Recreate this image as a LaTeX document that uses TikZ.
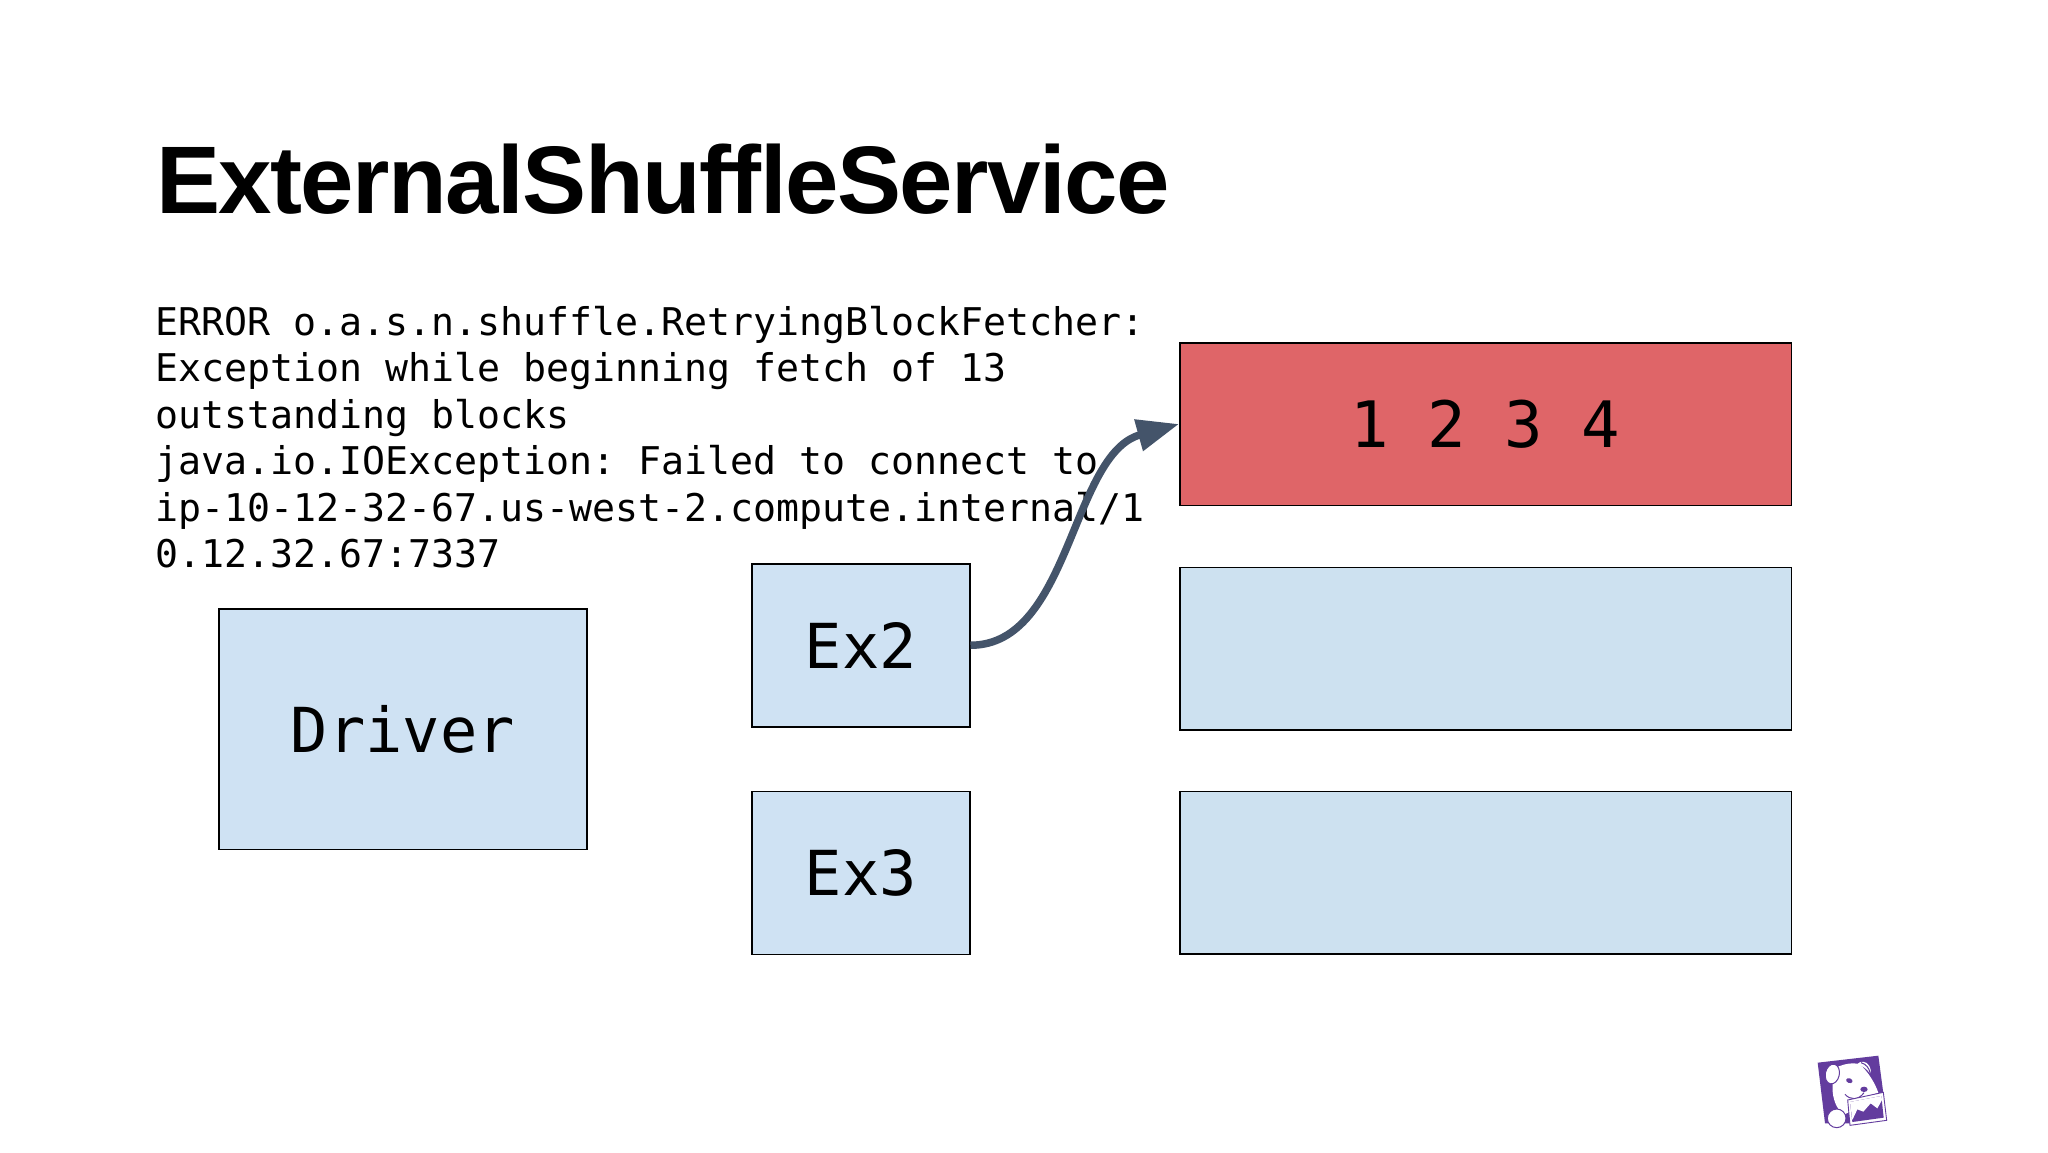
\documentclass[tikz,border=0pt]{standalone}
\usepackage{fontspec}
\setmainfont{Liberation Sans}
\newfontfamily\titlefont[LetterSpace=-1.6]{Liberation Sans}
\newfontfamily\codefont{DejaVu Sans Mono}
\usetikzlibrary{arrows.meta}
\definecolor{paleblue}{HTML}{CFE2F3}
\definecolor{shardblue}{HTML}{CDE1F0}
\definecolor{softred}{HTML}{DF6568}
\definecolor{arrowslate}{HTML}{44546A}
\definecolor{dogpurple}{HTML}{633C9E}
\tikzset{
  block/.style={draw=black,line width=1.5pt,fill=paleblue,inner sep=0pt,anchor=north west,
    font=\codefont\fontsize{62}{70}\selectfont},
}
\frenchspacing
\begin{document}
\begin{tikzpicture}[x=1pt,y=-1pt]
\useasboundingbox[fill=white] (0,0) rectangle (2048,1152);
\node[anchor=base west,inner sep=0pt,font=\titlefont\bfseries\fontsize{96}{100}\selectfont] (title) at (156,213) {ExternalShuffleService};
\node[anchor=north west,inner sep=0pt,align=left,font=\codefont\frenchspacing\fontsize{38.2}{46.4}\selectfont] (log) at (155.5,306)
{ERROR o.a.s.n.shuffle.RetryingBlockFetcher:\\
Exception while beginning fetch of 13\\
outstanding blocks\\
java.io.IOException: Failed to connect to\\
ip-10-12-32-67.us-west-2.compute.internal/1\\
0.12.32.67:7337};
\node[block,minimum width=368pt,minimum height=240.5pt] (driver) at (218,608) {Driver};
\node[block,minimum width=218pt,minimum height=163pt] (ex2) at (751,563) {Ex2};
\node[block,minimum width=218pt,minimum height=163pt] (ex3) at (751,790.5) {Ex3};
\node[block,minimum width=611.5pt,minimum height=162.5pt,fill=softred,font=\codefont\fontsize{64}{70}\selectfont] (red) at (1179,342) {1 2 3 4};
\node[block,minimum width=611.5pt,minimum height=162.5pt,fill=shardblue] (b2) at (1179,566.5) {};
\node[block,minimum width=611.5pt,minimum height=162.5pt,fill=shardblue] (b3) at (1179,790.5) {};
\draw[arrowslate,line width=7.5pt,-{Triangle[length=42pt,width=31pt]}]
  (ex2.east) .. controls +(100,0) and +(-108,30) .. (red.west);
% logo
\begin{scope}[shift={(1800,1040)},x=0.3333pt,y=-0.3333pt]
\fill[dogpurple] (53,68) -- (235,47) -- (250,160) -- (150,250) -- (75,250) -- cycle;
% head and body
\fill[white] (110,82) .. controls (135,70) and (160,68) .. (178,72)
 .. controls (205,95) and (225,130) .. (235,158) -- (150,185) -- (150,215) -- (130,225)
 -- (118,210) .. controls (105,195) and (95,165) .. (98,130) -- cycle;
% ears
\filldraw[fill=white,draw=dogpurple,line width=1pt,rotate around={-12:(97,102)}] (97,102) circle[x radius=21,y radius=30];
\fill[white] (172,72) .. controls (180,62) and (200,62) .. (208,78) .. controls (214,90) and (213,98) .. (210,100) .. controls (200,85) and (185,78) .. (172,72) -- cycle;
\draw[dogpurple,line width=1pt] (183,68) .. controls (198,72) and (208,85) .. (210,98);
% face
\fill[dogpurple,rotate around={-20:(148,122)}] (148,122) circle[x radius=10,y radius=7];
\fill[dogpurple] (192,148) circle[x radius=11,y radius=8];
\draw[dogpurple,line width=1pt] (135,163) .. controls (150,180) and (175,182) .. (192,158);
% paw
\filldraw[fill=white,draw=dogpurple,line width=1pt] (110,235) circle[radius=28];
% chart
\draw[dogpurple,line width=0.9pt,fill=white] (143,180) -- (250,157) -- (260,241) -- (150,256) -- cycle;
\fill[dogpurple] (150,186) -- (244,168) -- (251,233) -- (157,246) -- cycle;
\fill[white] (150,186) -- (244,168) -- (246,180) -- (232,205) -- (212,190) -- (190,215) -- (172,208) -- (157,240) -- cycle;
\end{scope}
\end{tikzpicture}
\end{document}
